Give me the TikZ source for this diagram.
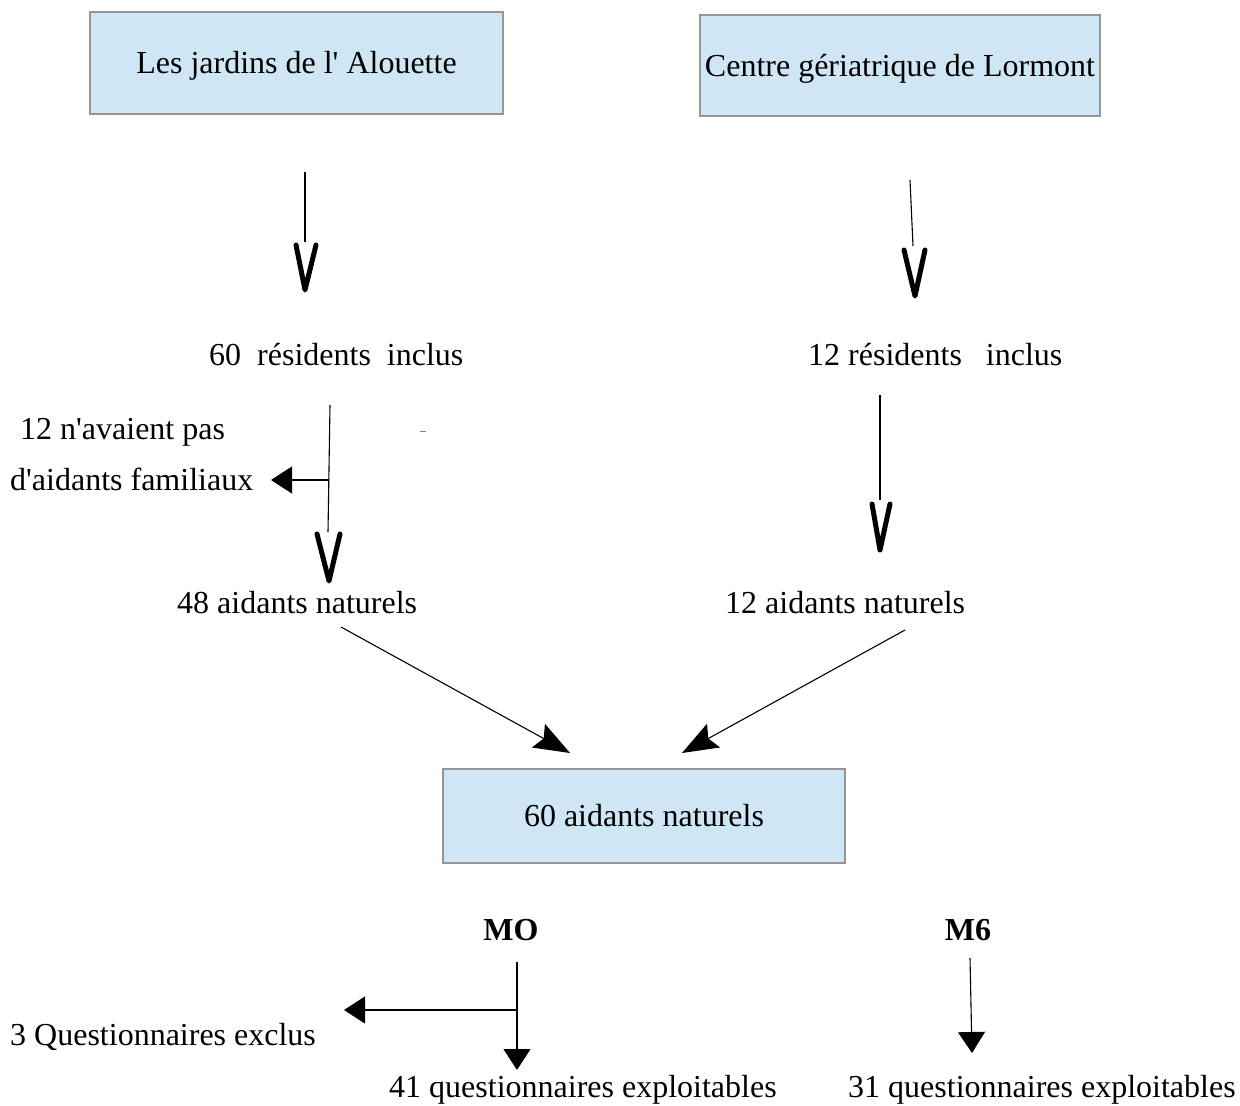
\documentclass[tikz,border=0pt]{standalone}
\usepackage{fontspec}
\setmainfont{Liberation Serif}[Ligatures=TeXOff]
\usetikzlibrary{arrows.meta}
\definecolor{boxfill}{RGB}{207,231,245}
\definecolor{boxline}{RGB}{150,150,150}
\begin{document}
\begin{tikzpicture}[x=1pt,y=-1pt,
  every node/.style={font=\fontsize{32}{38}\selectfont, inner sep=0pt},
  box/.style={draw=boxline, line width=1.2pt, fill=boxfill, text height=22pt, text depth=1pt},
  lab/.style={anchor=base west},
  clab/.style={anchor=base},
  conn/.style={line width=1.1pt, draw=black},
  vhead/.style={line width=5pt, line cap=round, line join=round},
  tri/.style={-{Triangle[length=21pt,width=27pt]}},
  concave/.style={-{Stealth[length=36pt,width=27pt,inset=6pt]}}
]
\useasboundingbox (0,0) rectangle (1240,1106);

% boxes
\node[box, minimum width=413pt, minimum height=102pt] (b1) at (296.5,63) {Les jardins de l' Alouette};
\node[box, minimum width=400pt, minimum height=101pt] (b2) at (900,65.5) {Centre gériatrique de Lormont};
\node[box, minimum width=402pt, minimum height=94pt] (b3) at (644,816) {60 aidants naturels};

% labels
\node[lab] (r60) at (209,365) {60\ \ résidents\ \ inclus};
\node[lab] (r12) at (808,365) {12 résidents\ \ \ inclus};
\node[lab] (no1) at (20,439) {12 n'avaient pas};
\node[lab] (no2) at (10,490) {d'aidants familiaux};
\node[lab] (a48) at (177,613) {48 aidants naturels};
\node[lab] (a12) at (725,613) {12 aidants naturels};
\node[clab, font=\fontsize{32}{38}\selectfont\bfseries] (mo) at (511,940) {MO};
\node[clab, font=\fontsize{32}{38}\selectfont\bfseries] (m6) at (968,940) {M6};
\node[lab] (ex) at (10,1045) {3 Questionnaires exclus};
\node[lab] (q41) at (389,1097) {41 questionnaires exploitables};
\node[lab] (q31) at (848,1097) {31 questionnaires exploitables};

% connector end points
\coordinate (s1) at (305,172); \coordinate (e1) at (305,242);
\coordinate (s2) at (910,180); \coordinate (e2) at (913,246);
\coordinate (s3) at (330,405); \coordinate (e3) at (328,532);
\coordinate (j1) at (329,480); \coordinate (t1) at (271,480);
\coordinate (s4) at (880,395); \coordinate (e4) at (880,500);
\coordinate (s5) at (341,627); \coordinate (e5) at (570,753);
\coordinate (s6) at (905,630); \coordinate (e6) at (682,753);
\coordinate (s7) at (517,962); \coordinate (e7) at (517,1070);
\coordinate (j2) at (517,1010); \coordinate (t2) at (344,1010);
\coordinate (s8) at (970,958); \coordinate (e8) at (972,1053);

% lines
\draw[conn] (s1) -- (e1);
\draw[vhead] (296,245) -- (305,290) -- (316,245);
\draw[conn] (s2) -- (e2);
\draw[vhead] (904,250) -- (915,296) -- (925,250);
\draw[conn] (s3) -- (e3);
\draw[vhead] (317,534) -- (329,581) -- (340,534);
\draw[conn, tri] (j1) -- (t1);
\draw[conn] (s4) -- (e4);
\draw[vhead] (872,504) -- (880,550) -- (890,504);
\draw[conn, concave] (s5) -- (e5);
\draw[conn, concave] (s6) -- (e6);
\draw[conn, tri] (s7) -- (e7);
\draw[conn, tri] (j2) -- (t2);
\draw[conn, tri] (s8) -- (e8);

% small stray mark
\draw[gray, line width=0.8pt] (420,431) -- (426,431);
\end{tikzpicture}
\end{document}
